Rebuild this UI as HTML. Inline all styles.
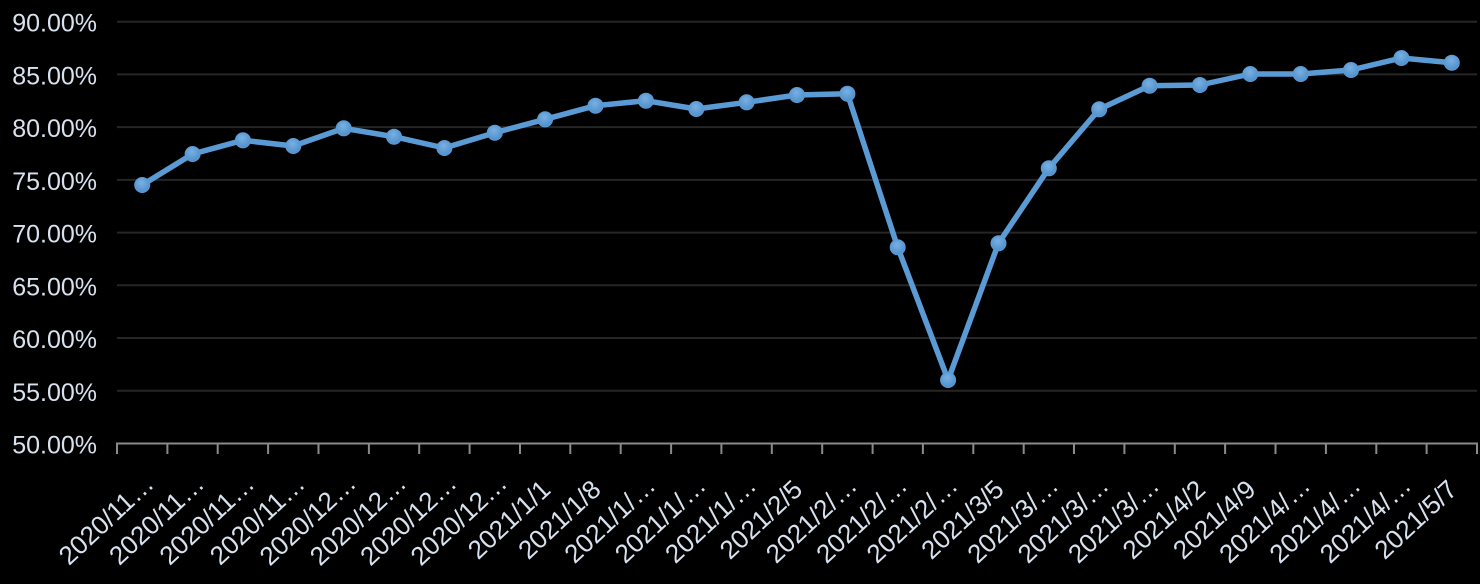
<!DOCTYPE html>
<html>
<head>
<meta charset="utf-8">
<style>
  html, body { margin: 0; padding: 0; background: #000; }
  body { width: 1480px; height: 584px; overflow: hidden; }
  svg { display: block; }
  .yl { font-family: "Liberation Sans", sans-serif; font-size: 25px; fill: #d8e2ef; }
  .xl { font-family: "Liberation Sans", sans-serif; font-size: 26px; fill: #d8e2ef; }
</style>
</head>
<body>
<svg width="1480" height="584" viewBox="0 0 1480 584" xmlns="http://www.w3.org/2000/svg">
  <defs>
    <radialGradient id="mk" cx="45%" cy="35%" r="65%">
      <stop offset="0%" stop-color="#78b0e2"/>
      <stop offset="100%" stop-color="#4f8fcb"/>
    </radialGradient>
  </defs>
  <rect x="0" y="0" width="1480" height="584" fill="#000"/>

  <!-- gridlines -->
  <g stroke="#262626" stroke-width="2">
    <line x1="117" y1="21.7" x2="1477" y2="21.7"/>
    <line x1="117" y1="74.4" x2="1477" y2="74.4"/>
    <line x1="117" y1="127.1" x2="1477" y2="127.1"/>
    <line x1="117" y1="179.9" x2="1477" y2="179.9"/>
    <line x1="117" y1="232.6" x2="1477" y2="232.6"/>
    <line x1="117" y1="285.3" x2="1477" y2="285.3"/>
    <line x1="117" y1="338.0" x2="1477" y2="338.0"/>
    <line x1="117" y1="390.8" x2="1477" y2="390.8"/>
  </g>

  <!-- y labels -->
  <g class="yl" text-anchor="end">
    <text x="97" y="31.7">90.00%</text>
    <text x="97" y="84.4">85.00%</text>
    <text x="97" y="137.1">80.00%</text>
    <text x="97" y="189.9">75.00%</text>
    <text x="97" y="242.6">70.00%</text>
    <text x="97" y="295.3">65.00%</text>
    <text x="97" y="348.0">60.00%</text>
    <text x="97" y="400.8">55.00%</text>
    <text x="97" y="453.5">50.00%</text>
  </g>

  <!-- x axis -->
  <g stroke="#8a8a8a" stroke-width="2">
    <line x1="116" y1="443.5" x2="1478" y2="443.5"/>
    <line x1="117" y1="443" x2="117" y2="454"/>
    <line x1="167.4" y1="443" x2="167.4" y2="454"/>
    <line x1="217.7" y1="443" x2="217.7" y2="454"/>
    <line x1="268.1" y1="443" x2="268.1" y2="454"/>
    <line x1="318.5" y1="443" x2="318.5" y2="454"/>
    <line x1="368.9" y1="443" x2="368.9" y2="454"/>
    <line x1="419.2" y1="443" x2="419.2" y2="454"/>
    <line x1="469.6" y1="443" x2="469.6" y2="454"/>
    <line x1="520.0" y1="443" x2="520.0" y2="454"/>
    <line x1="570.3" y1="443" x2="570.3" y2="454"/>
    <line x1="620.7" y1="443" x2="620.7" y2="454"/>
    <line x1="671.1" y1="443" x2="671.1" y2="454"/>
    <line x1="721.4" y1="443" x2="721.4" y2="454"/>
    <line x1="771.8" y1="443" x2="771.8" y2="454"/>
    <line x1="822.2" y1="443" x2="822.2" y2="454"/>
    <line x1="872.6" y1="443" x2="872.6" y2="454"/>
    <line x1="922.9" y1="443" x2="922.9" y2="454"/>
    <line x1="973.3" y1="443" x2="973.3" y2="454"/>
    <line x1="1023.7" y1="443" x2="1023.7" y2="454"/>
    <line x1="1074.0" y1="443" x2="1074.0" y2="454"/>
    <line x1="1124.4" y1="443" x2="1124.4" y2="454"/>
    <line x1="1174.8" y1="443" x2="1174.8" y2="454"/>
    <line x1="1225.1" y1="443" x2="1225.1" y2="454"/>
    <line x1="1275.5" y1="443" x2="1275.5" y2="454"/>
    <line x1="1325.9" y1="443" x2="1325.9" y2="454"/>
    <line x1="1376.3" y1="443" x2="1376.3" y2="454"/>
    <line x1="1426.6" y1="443" x2="1426.6" y2="454"/>
    <line x1="1477" y1="443" x2="1477" y2="454"/>
  </g>

  <!-- x labels -->
  <g class="xl" text-anchor="middle">
    <text transform="translate(112.2,526) rotate(-43)">2020/11…</text>
    <text transform="translate(162.6,526) rotate(-43)">2020/11…</text>
    <text transform="translate(212.9,526) rotate(-43)">2020/11…</text>
    <text transform="translate(263.3,526) rotate(-43)">2020/11…</text>
    <text transform="translate(313.7,526) rotate(-43)">2020/12…</text>
    <text transform="translate(364.0,526) rotate(-43)">2020/12…</text>
    <text transform="translate(414.4,526) rotate(-43)">2020/12…</text>
    <text transform="translate(464.8,526) rotate(-43)">2020/12…</text>
    <text transform="translate(515.1,526) rotate(-43)">2021/1/1</text>
    <text transform="translate(565.5,526) rotate(-43)">2021/1/8</text>
    <text transform="translate(615.9,526) rotate(-43)">2021/1/…</text>
    <text transform="translate(666.3,526) rotate(-43)">2021/1/…</text>
    <text transform="translate(716.6,526) rotate(-43)">2021/1/…</text>
    <text transform="translate(767.0,526) rotate(-43)">2021/2/5</text>
    <text transform="translate(817.4,526) rotate(-43)">2021/2/…</text>
    <text transform="translate(867.7,526) rotate(-43)">2021/2/…</text>
    <text transform="translate(918.1,526) rotate(-43)">2021/2/…</text>
    <text transform="translate(968.5,526) rotate(-43)">2021/3/5</text>
    <text transform="translate(1018.8,526) rotate(-43)">2021/3/…</text>
    <text transform="translate(1069.2,526) rotate(-43)">2021/3/…</text>
    <text transform="translate(1119.6,526) rotate(-43)">2021/3/…</text>
    <text transform="translate(1169.9,526) rotate(-43)">2021/4/2</text>
    <text transform="translate(1220.3,526) rotate(-43)">2021/4/9</text>
    <text transform="translate(1270.7,526) rotate(-43)">2021/4/…</text>
    <text transform="translate(1321.0,526) rotate(-43)">2021/4/…</text>
    <text transform="translate(1371.4,526) rotate(-43)">2021/4/…</text>
    <text transform="translate(1421.8,526) rotate(-43)">2021/5/7</text>
  </g>

  <!-- series line -->
  <polyline fill="none" stroke="#5b9bd5" stroke-width="5.5" stroke-linejoin="round" stroke-linecap="round"
    points="142.2,185 192.6,154 242.9,140.3 293.3,146 343.7,128.3 394.0,136.7 444.4,148 494.8,132.7 545.1,119.3 595.5,105.7 645.9,100.7 696.3,109 746.6,102.3 797.0,95 847.4,93.7 897.7,247.3 948.1,380 998.5,243.3 1048.8,168.3 1099.2,109.3 1149.6,85.7 1199.9,85 1250.3,74 1300.7,74 1351.0,70 1401.4,58 1451.8,62.7"/>

  <!-- markers -->
  <g fill="url(#mk)" stroke="#5b9bd5" stroke-width="1">
    <circle cx="142.2" cy="185" r="7.5"/>
    <circle cx="192.6" cy="154" r="7.5"/>
    <circle cx="242.9" cy="140.3" r="7.5"/>
    <circle cx="293.3" cy="146" r="7.5"/>
    <circle cx="343.7" cy="128.3" r="7.5"/>
    <circle cx="394.0" cy="136.7" r="7.5"/>
    <circle cx="444.4" cy="148" r="7.5"/>
    <circle cx="494.8" cy="132.7" r="7.5"/>
    <circle cx="545.1" cy="119.3" r="7.5"/>
    <circle cx="595.5" cy="105.7" r="7.5"/>
    <circle cx="645.9" cy="100.7" r="7.5"/>
    <circle cx="696.3" cy="109" r="7.5"/>
    <circle cx="746.6" cy="102.3" r="7.5"/>
    <circle cx="797.0" cy="95" r="7.5"/>
    <circle cx="847.4" cy="93.7" r="7.5"/>
    <circle cx="897.7" cy="247.3" r="7.5"/>
    <circle cx="948.1" cy="380" r="7.5"/>
    <circle cx="998.5" cy="243.3" r="7.5"/>
    <circle cx="1048.8" cy="168.3" r="7.5"/>
    <circle cx="1099.2" cy="109.3" r="7.5"/>
    <circle cx="1149.6" cy="85.7" r="7.5"/>
    <circle cx="1199.9" cy="85" r="7.5"/>
    <circle cx="1250.3" cy="74" r="7.5"/>
    <circle cx="1300.7" cy="74" r="7.5"/>
    <circle cx="1351.0" cy="70" r="7.5"/>
    <circle cx="1401.4" cy="58" r="7.5"/>
    <circle cx="1451.8" cy="62.7" r="7.5"/>
  </g>
</svg>
</body>
</html>
